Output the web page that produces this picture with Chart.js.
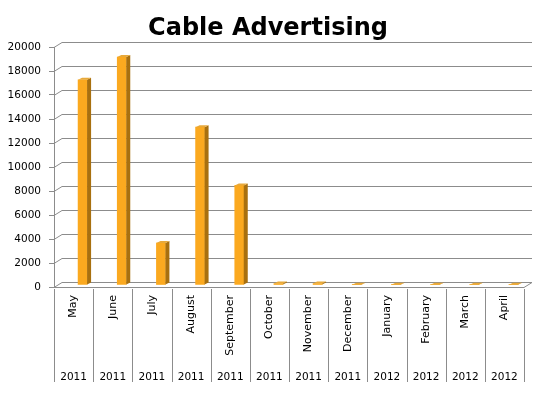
<!DOCTYPE html>
<html>
<head>
<meta charset="utf-8">
<script src="https://cdn.jsdelivr.net/npm/chart.js@4.4.1/dist/chart.umd.min.js"></script>
<style>
  html, body { margin: 0; padding: 0; background: #fff; }
  #wrap { width: 557px; height: 393px; }
</style>
</head>
<body>
<div id="wrap"><canvas id="mycanvas" width="557" height="393"></canvas></div>
<script>
  var months = ["May", "June", "July", "August", "September", "October",
                "November", "December", "January", "February", "March", "April"];
  var years = ["2011", "2011", "2011", "2011", "2011", "2011",
               "2011", "2011", "2012", "2012", "2012", "2012"];
  var spend = [17100, 19000, 3500, 13150, 8300, 120, 120, 20, 20, 20, 20, 20];
  var yTicks = [0, 2000, 4000, 6000, 8000, 10000, 12000, 14000, 16000, 18000, 20000];

  var gridColor = "#8c8c8c";
  var back = { dx: 8, dy: -5 };     // depth of the back wall
  var barShift = { dx: 9, dy: -2 }; // bars sit half way in

  // fake 3d: walls, grid lines, bar sides and tops
  var fake3d = {
    id: "fake3d",
    beforeDatasetsDraw: function(chart) {
      var ctx = chart.ctx;
      var area = chart.chartArea;
      var y = chart.scales.y;
      ctx.save();
      ctx.strokeStyle = gridColor;
      ctx.lineWidth = 1;
      yTicks.forEach(function(v) {
        var py = Math.round(y.getPixelForValue(v)) + 0.5;
        ctx.beginPath();
        ctx.moveTo(area.left, py);
        ctx.lineTo(area.left + back.dx, py + back.dy);
        ctx.lineTo(area.right + back.dx, py + back.dy);
        ctx.stroke();
      });
      // floor front edge and right side
      var fy = Math.round(area.bottom) + 0.5;
      ctx.beginPath();
      ctx.moveTo(area.left, fy);
      ctx.lineTo(area.right, fy);
      ctx.lineTo(area.right + back.dx, fy + back.dy);
      ctx.stroke();
      ctx.restore();

      ctx.save();
      ctx.translate(barShift.dx, barShift.dy);
    },
    afterDatasetsDraw: function(chart) {
      var ctx = chart.ctx;
      var meta = chart.getDatasetMeta(0);
      meta.data.forEach(function(bar) {
        var p = bar.getProps(["x", "y", "base", "width"], true);
        var l = p.x - p.width / 2, r = p.x + p.width / 2;
        // side
        ctx.fillStyle = "#a8700f";
        ctx.beginPath();
        ctx.moveTo(r, p.y);
        ctx.lineTo(r + 4, p.y - 2);
        ctx.lineTo(r + 4, p.base - 2);
        ctx.lineTo(r, p.base);
        ctx.closePath();
        ctx.fill();
        // top
        ctx.fillStyle = "#e8a93a";
        ctx.beginPath();
        ctx.moveTo(l, p.y);
        ctx.lineTo(l + 4, p.y - 2);
        ctx.lineTo(r + 4, p.y - 2);
        ctx.lineTo(r, p.y);
        ctx.closePath();
        ctx.fill();
      });
      ctx.restore();
    },
    afterDraw: function(chart) {
      // category separators through both label rows
      var ctx = chart.ctx;
      var x = chart.scales.x;
      var half = (x.getPixelForValue(1) - x.getPixelForValue(0)) / 2;
      ctx.save();
      ctx.strokeStyle = gridColor;
      ctx.lineWidth = 1;
      for (var i = 0; i <= months.length; i++) {
        var px = Math.round(x.getPixelForValue(0) - half + i * half * 2) + 0.5;
        ctx.beginPath();
        ctx.moveTo(px, chart.chartArea.bottom + 2);
        ctx.lineTo(px, 382);
        ctx.stroke();
      }
      ctx.restore();
    }
  };

  var chartdata = {
    labels: months,
    datasets: [
      {
        label: "Cable Advertising",
        backgroundColor: "#fba91f",
        borderWidth: 0,
        barThickness: 9,
        data: spend
      }
    ]
  };

  var ctx = document.getElementById("mycanvas");

  var BarGraph = new Chart(ctx, {
    type: "bar",
    data: chartdata,
    plugins: [fake3d],
    options: {
      responsive: false,
      animation: false,
      layout: { padding: { left: 0, right: 21, top: 0, bottom: 6 } },
      plugins: {
        legend: { display: false },
        tooltip: { enabled: false },
        title: {
          display: true,
          text: "Cable Advertising",
          color: "#000",
          font: { family: "DejaVu Sans", size: 24, weight: "bold", lineHeight: 1 },
          padding: { top: 17, bottom: 6 }
        }
      },
      scales: {
        y: {
          min: 0,
          max: 20000,
          afterFit: function(scale) { scale.width = 54; },
          afterBuildTicks: function(scale) {
            scale.ticks = yTicks.map(function(v) { return { value: v }; });
          },
          grid: { drawOnChartArea: false, tickLength: 5, color: gridColor },
          border: { display: true, color: gridColor },
          ticks: {
            color: "#000",
            padding: 8,
            font: { family: "DejaVu Sans", size: 10.5 },
            callback: function(v) { return String(v); }
          }
        },
        // empty strip on the right, room for the back wall
        side: {
          position: "right",
          min: 0,
          max: 1,
          afterFit: function(scale) { scale.width = 12; },
          grid: { display: false },
          border: { display: false },
          ticks: { display: false }
        },
        x: {
          weight: 0,
          offset: true,
          afterFit: function(scale) { scale.height = 80; },
          grid: { display: false, drawTicks: false },
          border: { display: false },
          ticks: {
            color: "#000",
            autoSkip: false,
            minRotation: 90,
            maxRotation: 90,
            padding: 8,
            font: { family: "DejaVu Sans", size: 11 }
          }
        },
        year: {
          type: "category",
          position: "bottom",
          weight: 1,
          offset: true,
          labels: years,
          afterFit: function(scale) { scale.height = 20; },
          grid: { display: false, drawTicks: false },
          border: { display: false },
          ticks: {
            color: "#000",
            autoSkip: false,
            maxRotation: 0,
            padding: 4,
            font: { family: "DejaVu Sans", size: 10.5 }
          }
        }
      }
    }
  });
</script>
</body>
</html>
